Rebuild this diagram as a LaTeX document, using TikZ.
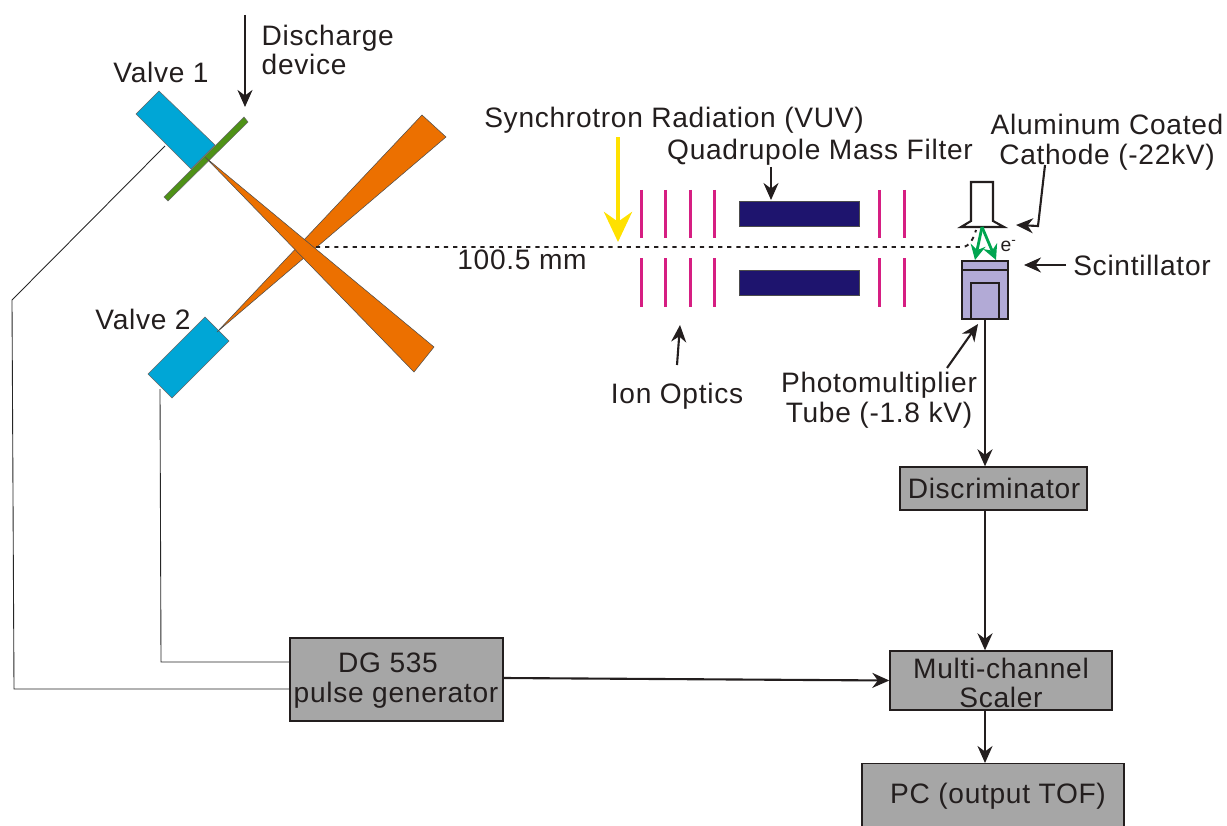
\documentclass[tikz,border=0pt]{standalone}
\usepackage{fontspec}
\setmainfont[LetterSpace=2.5]{Liberation Sans}
\usetikzlibrary{arrows.meta}
\definecolor{valveblue}{RGB}{0,166,214}
\definecolor{beamorange}{RGB}{236,112,0}
\definecolor{plategreen}{RGB}{78,145,22}
\definecolor{lenspink}{RGB}{214,30,130}
\definecolor{quadnavy}{RGB}{30,20,110}
\definecolor{tubelilac}{RGB}{178,170,214}
\definecolor{boxgray}{RGB}{166,166,166}
\definecolor{inkblack}{RGB}{35,30,30}
\definecolor{electrongreen}{RGB}{0,165,80}
\definecolor{lightyellow}{RGB}{255,225,0}
\tikzset{
	label/.style={font=\fontsize{8}{8.5}\selectfont, text=inkblack, inner sep=0pt, align=center},
	unit/.style={draw=inkblack, fill=boxgray, line width=0.4pt, inner sep=0pt},
	arrow/.style={draw=inkblack, line width=0.6pt, -{Stealth[length=1.7mm,width=1.5mm]}},
	wire/.style={draw=black!85, line width=0.25pt},
	lens/.style={draw=lenspink, line width=0.85pt},
	quad/.style={draw=black!70, fill=quadnavy, line width=0.2pt},
	valve/.style={draw=black!60, fill=valveblue, line width=0.15pt},
	beam/.style={draw=black!70, fill=beamorange, line width=0.15pt},
	electron/.style={draw=electrongreen, line width=0.8pt, -{Stealth[length=1.5mm,width=1.5mm]}}
}
\begin{document}
\begin{tikzpicture}
	\useasboundingbox (0,0) rectangle (12.27,8.25);

	% valves and skimmer
	\path[valve] (1.59,7.34) -- (1.36,7.11) -- (1.91,6.56) -- (2.15,6.80) -- cycle;
	\path[valve] (2.05,5.08) -- (2.29,4.84) -- (1.72,4.27) -- (1.48,4.51) -- cycle;
	\path[draw=black!60, fill=plategreen, line width=0.15pt] (2.44,7.08) -- (2.48,7.03) -- (1.68,6.24) -- (1.64,6.28) -- cycle;

	% molecular beams
	\path[beam] (2.17,4.93) -- (4.22,7.10) -- (4.46,6.88) -- cycle;
	\path[beam] (2.05,6.68) -- (4.34,4.78) -- (4.14,4.53) -- cycle;

	% ion optics
	\foreach \x in {6.41,6.65,6.90,7.14,8.79,9.04} {
		\draw[lens] (\x,6.35) -- (\x,5.87);
		\draw[lens] (\x,5.67) -- (\x,5.18);
	}
	\draw[quad] (7.39,5.99) rectangle (8.59,6.24);
	\draw[quad] (7.39,5.30) rectangle (8.59,5.55);

	% photon beam path
	\draw[line width=0.55pt, dash pattern=on 1.2pt off 1.4pt, inkblack] (3.16,5.78) -- (9.62,5.78) .. controls (9.70,5.78) and (9.74,5.88) .. (9.76,5.95);

	% cathode and detector
	\draw[inkblack, line width=0.6pt] (9.71,6.43) -- (9.93,6.43) -- (9.93,6.04) -- (10.04,5.98) -- (9.61,5.98) -- (9.71,6.04) -- cycle;
	\draw[inkblack, fill=tubelilac, line width=0.7pt] (9.62,5.64) rectangle (10.08,5.06);
	\draw[inkblack, line width=0.7pt] (9.62,5.55) -- (10.08,5.55);
	\draw[inkblack, line width=0.7pt] (9.71,5.06) -- (9.71,5.42) -- (9.99,5.42) -- (9.99,5.06);
	\coordinate (emit) at (9.82,5.98);
	\coordinate (hitleft) at (9.75,5.65);
	\coordinate (hitright) at (9.96,5.65);
	\draw[electron] (emit) -- (hitleft);
	\draw[electron] (emit) -- (hitright);
	\node[label, font=\fontsize{5.5}{6}\selectfont] (electronlabel) at (10.09,5.79) {e\textsuperscript{-}};

	% yellow arrow
	\coordinate (lightstart) at (6.18,6.88);
	\coordinate (lightend) at (6.18,5.83);
	\draw[draw=lightyellow, line width=1.3pt, -{Stealth[length=3mm,width=2.8mm]}] (lightstart) -- (lightend);

	% labels
	\node[label] (valveone) at (1.61,7.53) {Valve 1};
	\node[label] (valvetwo) at (1.43,5.06) {Valve 2};
	\node[label, align=left, anchor=west] (discharge) at (2.61,7.75) {Discharge\\device};
	\node[label] (synchrotron) at (6.74,7.05) {Synchrotron Radiation (VUV)};
	\node[label] (quadrupole) at (8.20,6.73) {Quadrupole Mass Filter};
	\node[label] (cathodelabel) at (11.07,6.83) {Aluminum Coated\\Cathode (-22kV)};
	\node[label] (scintillator) at (11.42,5.60) {Scintillator};
	\node[label] (distance) at (5.22,5.65) {100.5 mm};
	\node[label] (ionoptics) at (6.77,4.29) {Ion Optics};
	\node[label] (photomultiplier) at (8.79,4.25) {Photomultiplier\\Tube (-1.8 kV)};

	% electronics
	\node[unit, minimum width=1.87cm, minimum height=0.43cm] (discriminator) at (9.935,3.365) {};
	\node[unit, minimum width=2.13cm, minimum height=0.83cm] (generator) at (3.965,1.455) {};
	\node[unit, minimum width=2.22cm, minimum height=0.59cm] (scaler) at (10.01,1.445) {};
	\node[unit, minimum width=2.62cm, minimum height=0.68cm, anchor=north] (computer) at (9.93,0.62) {};
	\node[label] (discriminatortext) at (9.94,3.37) {Discriminator};
	\node[label] (generatortext) at (3.96,1.44) {DG 535\hspace*{0.16cm}\\pulse generator};
	\node[label] (scalertext) at (10.01,1.42) {Multi-channel\\Scaler};
	\node[label] (computertext) at (9.98,0.29) {PC (output TOF)};

	% connectors
	\coordinate (tube) at (9.85,5.06);
	\draw[arrow] (tube) -- (discriminator.north -| tube);
	\draw[arrow] (discriminator.south -| tube) -- (scaler.north -| tube);
	\draw[arrow] (scaler.south -| tube) -- (computer.north -| tube);
	\draw[arrow] (generator.east |- 0,1.47) -- (scaler.west);

	% wires to the valves
	\coordinate (valveoneport) at (1.65,6.79);
	\coordinate (valvetwoport) at (1.60,4.36);
	\draw[wire] (valveoneport) -- (0.12,5.25) -- (0.14,1.36) -- (generator.west |- 0,1.36);
	\draw[wire] (valvetwoport) -- (1.61,1.63) -- (generator.west |- 0,1.63);

	% pointers
	\coordinate (dischargestart) at (2.45,8.10);
	\coordinate (dischargeend) at (2.45,7.18);
	\coordinate (quadstart) at (7.71,6.58);
	\coordinate (quadend) at (7.71,6.25);
	\coordinate (ionstart) at (6.77,4.60);
	\coordinate (ionend) at (6.80,5.00);
	\coordinate (tubestart) at (9.47,4.57);
	\coordinate (tubeend) at (9.78,5.01);
	\coordinate (scintstart) at (10.66,5.60);
	\coordinate (scintend) at (10.24,5.60);
	\coordinate (cathodestart) at (10.45,6.60);
	\coordinate (cathodebend) at (10.38,5.99);
	\coordinate (cathodeend) at (10.16,6.00);
	\draw[arrow] (dischargestart) -- (dischargeend);
	\draw[arrow] (quadstart) -- (quadend);
	\draw[arrow] (ionstart) -- (ionend);
	\draw[arrow] (tubestart) -- (tubeend);
	\draw[arrow] (scintstart) -- (scintend);
	\draw[arrow] (cathodestart) -- (cathodebend) -- (cathodeend);
\end{tikzpicture}
\end{document}
